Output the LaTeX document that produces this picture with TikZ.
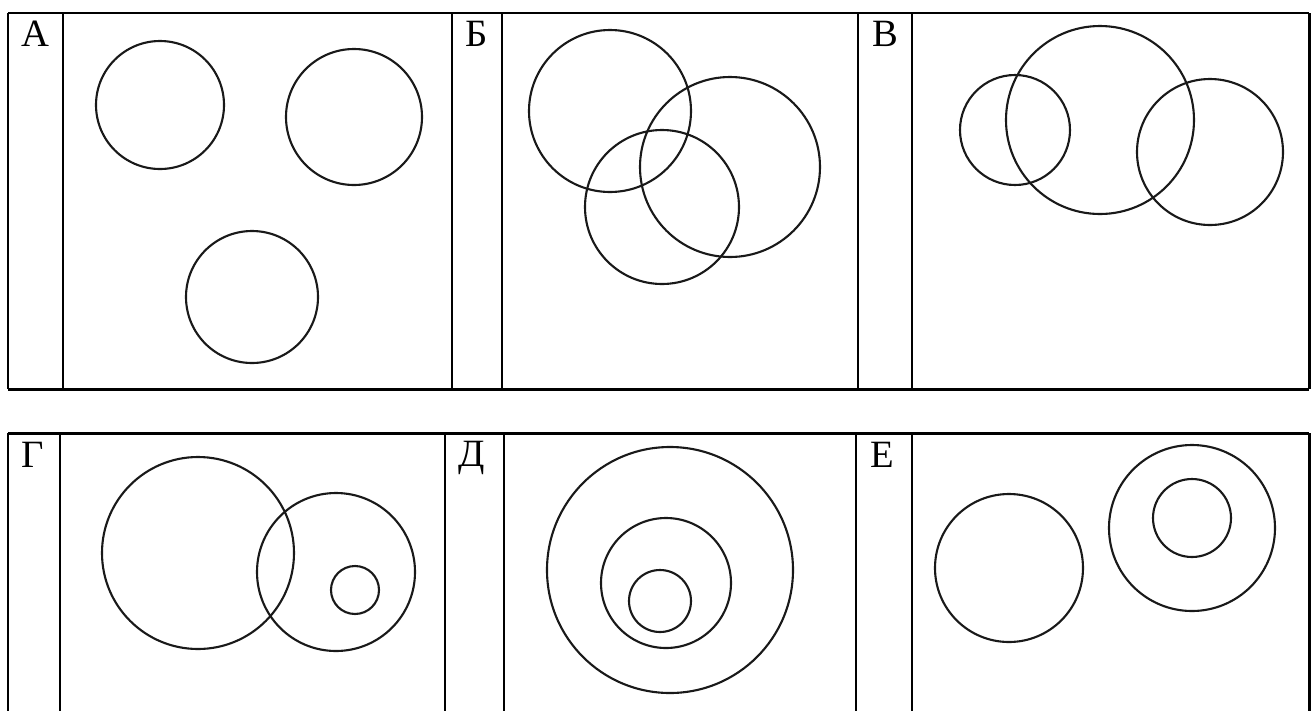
\documentclass[tikz,border=0pt]{standalone}
\usepackage{fontspec}
\setmainfont{Liberation Serif}
\usepackage{tikz}

\begin{document}
\begin{tikzpicture}[
  x=0.02cm,
  y=-0.02cm,
  rule/.style={draw=black, line width=1.7pt},
  ring/.style={draw=black!90, line width=1.2pt},
  tag/.style={
    inner sep=0pt,
    font=\fontsize{22}{26}\selectfont
  }
]
\useasboundingbox (0,0) rectangle (1313,711);

% Coordinates are in pixels of the reference, y pointing down.

% upper table
\draw[rule] (8,13) -- (1309,13);
\draw[rule] (8,389) -- (1309,389);
\foreach \xx in {8,63,452,502,858,912,1309}
  \draw[rule] (\xx,13) -- (\xx,389);

% lower table, open at the bottom
\draw[rule] (8,433) -- (1309,433);
\foreach \xx in {8,60,445,504,856,912,1309}
  \draw[rule] (\xx,433) -- (\xx,711);

% labels
\node[tag] (tagA) at (35,34)  {А};
\node[tag] (tagB) at (477,34) {Б};
\node[tag] (tagV) at (885,34) {В};
\node[tag] (tagG) at (33,455) {Г};
\node[tag] (tagD) at (472,458) {Д};
\node[tag] (tagE) at (882,455) {Е};

% panel A
\draw[ring] (160,105) circle [radius=64];
\draw[ring] (354,117) circle [radius=68];
\draw[ring] (252,297) circle [radius=66];

% panel B
\draw[ring] (610,111) circle [radius=81];
\draw[ring] (730,167) circle [radius=90];
\draw[ring] (662,207) circle [radius=77];

% panel V
\draw[ring] (1015,130) circle [radius=55];
\draw[ring] (1100,120) circle [radius=94];
\draw[ring] (1210,152) circle [radius=73];

% panel G
\draw[ring] (198,553) circle [radius=96];
\draw[ring] (336,572) circle [radius=79];
\draw[ring] (355,590) circle [radius=24];

% panel D
\draw[ring] (670,570) circle [radius=123];
\draw[ring] (666,583) circle [radius=65];
\draw[ring] (660,601) circle [radius=31];

% panel E
\draw[ring] (1009,568) circle [radius=74];
\draw[ring] (1192,528) circle [radius=83];
\draw[ring] (1192,518) circle [radius=39];

\end{tikzpicture}
\end{document}
